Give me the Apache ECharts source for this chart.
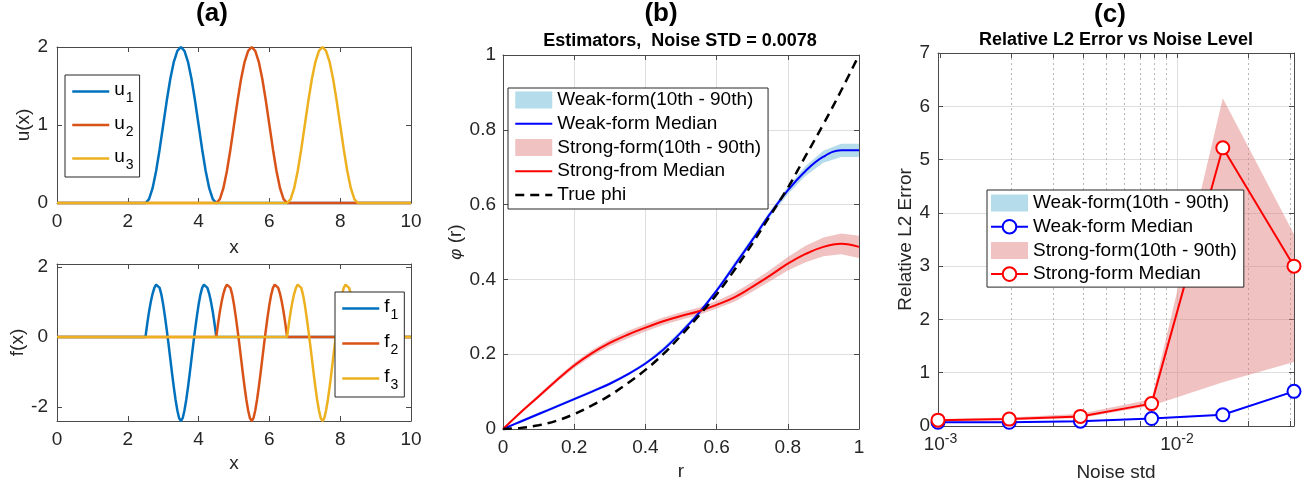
<!DOCTYPE html>
<html><head><meta charset="utf-8">
<script src="https://cdn.jsdelivr.net/npm/echarts@6/dist/echarts.min.js"></script>
<style>html,body{margin:0;padding:0;background:#fff}#c{width:1313px;height:488px}</style>
</head><body><div id="c"></div><script>
// ---------- Panel (a) data ----------
const bumpCenters = [3.5, 5.5, 7.5];
const xRangeA = [0, 10];
const uOffsets = [-1,-0.9,-0.8,-0.7,-0.6,-0.5,-0.4,-0.3,-0.2,-0.1,0,0.1,0.2,0.3,0.4,0.5,0.6,0.7,0.8,0.9,1];
const uProfile = [0,0.05,0.19,0.41,0.69,1.0,1.31,1.59,1.81,1.95,2.0,1.95,1.81,1.59,1.31,1.0,0.69,0.41,0.19,0.05,0];
const fOffsets = [-1,-0.95,-0.9,-0.85,-0.8,-0.75,-0.7,-0.65,-0.6,-0.55,-0.5,-0.45,-0.4,-0.35,-0.3,-0.25,-0.2,-0.15,-0.1,-0.05,0,
                  0.05,0.1,0.15,0.2,0.25,0.3,0.35,0.4,0.45,0.5,0.55,0.6,0.65,0.7,0.75,0.8,0.85,0.9,0.95,1];
const fProfile = [0,0.38,0.72,1.0,1.23,1.4,1.49,1.49,1.4,1.2,0.92,0.58,0.2,-0.2,-0.62,-1.04,-1.44,-1.8,-2.1,-2.32,-2.4,
                  -2.32,-2.1,-1.8,-1.44,-1.04,-0.62,-0.2,0.2,0.58,0.92,1.2,1.4,1.49,1.49,1.4,1.23,1.0,0.72,0.38,0];
const aTopYTicks = [0, 1, 2];
const aBotYTicks = [-2, 0, 2];

// ---------- Panel (b) data ----------
const rGrid     = [0,0.05,0.1,0.15,0.2,0.25,0.3,0.35,0.4,0.45,0.5,0.55,0.6,0.65,0.7,0.75,0.8,0.85,0.9,0.95,1.0];
const truePhi   = [0,0.003,0.01,0.022,0.04,0.063,0.09,0.122,0.158,0.2,0.25,0.303,0.36,0.425,0.495,0.57,0.645,0.73,0.815,0.905,1.0];
const weakMed   = [0,0.02,0.04,0.06,0.08,0.1,0.121,0.146,0.175,0.212,0.258,0.31,0.37,0.437,0.505,0.575,0.638,0.69,0.728,0.745,0.745];
const weakLo    = [0,0.016,0.036,0.056,0.076,0.096,0.117,0.142,0.171,0.206,0.252,0.304,0.364,0.429,0.497,0.567,0.628,0.677,0.712,0.727,0.727];
const weakHi    = [0,0.024,0.044,0.064,0.084,0.104,0.125,0.150,0.179,0.218,0.264,0.316,0.376,0.445,0.513,0.583,0.648,0.703,0.744,0.763,0.763];
const strongMed = [0,0.045,0.087,0.13,0.17,0.203,0.23,0.252,0.271,0.288,0.302,0.315,0.332,0.352,0.38,0.41,0.442,0.468,0.487,0.495,0.487];
const strongLo  = [0,0.041,0.082,0.124,0.163,0.195,0.221,0.242,0.261,0.278,0.292,0.305,0.322,0.34,0.367,0.395,0.424,0.446,0.462,0.467,0.457];
const strongHi  = [0,0.049,0.092,0.136,0.177,0.211,0.239,0.262,0.281,0.298,0.312,0.325,0.342,0.364,0.393,0.425,0.46,0.49,0.512,0.523,0.517];

// ---------- Panel (c) data ----------
const noiseStd   = [0.0009765625, 0.001953125, 0.00390625, 0.0078125, 0.015625, 0.03125];
const weakMedC   = [0.07, 0.07, 0.09, 0.14, 0.21, 0.65];
const weakLoC    = [0.06, 0.06, 0.08, 0.13, 0.2, 0.635];
const weakHiC    = [0.08, 0.08, 0.1, 0.15, 0.22, 0.665];
const strongMedC = [0.11, 0.13, 0.18, 0.42, 5.22, 3.0];
const strongLoC  = [0.095, 0.11, 0.15, 0.38, 0.82, 1.2];
const strongHiC  = [0.13, 0.16, 0.23, 0.5, 6.15, 3.6];
const cXMajor = [0.001, 0.01];
const cXMinor = [0.002,0.003,0.004,0.005,0.006,0.007,0.008,0.009,0.02,0.03];

// ---------- styling ----------
const FONT = '"Liberation Sans", Arial, Helvetica, sans-serif';
const TXT = '#262626';
const AXC = '#4a4a4a';
const GRIDC = '#dedede';
const C1 = '#0072BD', C2 = '#D95319', C3 = '#EDB120';
const BLUE = '#0000ff', RED = '#ff0000';
const WEAKBAND = 'rgba(150,205,225,0.7)';
const STRONGBAND = 'rgba(225,120,120,0.45)';
// axis indices per panel (bottom/left axis of each grid)
const AX_A1 = 0, AX_A2 = 2, AX_B = 4, AX_C = 6;

function merge(a, b) {
  const o = Object.assign({}, a);
  for (const k in b) {
    if (b[k] && typeof b[k] === 'object' && !Array.isArray(b[k]) && a[k] && typeof a[k] === 'object' && !Array.isArray(a[k])) o[k] = merge(a[k], b[k]);
    else o[k] = b[k];
  }
  return o;
}
function ax(extra) {
  return merge({
    nameLocation: 'middle',
    nameTextStyle: {color: TXT, fontSize: 19, fontFamily: FONT},
    axisLine: {show: true, onZero: false, lineStyle: {color: AXC, width: 1}},
    axisTick: {show: true, inside: true, length: 5, lineStyle: {color: AXC, width: 1}},
    axisLabel: {show: true, color: TXT, fontSize: 19, fontFamily: FONT, margin: 9},
    splitLine: {show: false},
    minorTick: {show: false}, minorSplitLine: {show: false}
  }, extra);
}
function boxAx(extra) { return ax(merge({axisLabel: {show: false}}, extra)); }
// hidden log axis used only to draw grid lines at given values
function gridOnlyLogAx(values, lineStyle) {
  return {type: 'log', logBase: 10, gridIndex: 3, min: noiseStd[0], max: noiseStd[noiseStd.length - 1],
    axisLine: {show: false}, axisLabel: {show: false},
    axisTick: {show: false, customValues: values},
    splitLine: {show: true, lineStyle: lineStyle}};
}

function bumpData(center, offs, prof) {
  return [[xRangeA[0], 0]].concat(offs.map((d, i) => [center + d, prof[i]])).concat([[xRangeA[1], 0]]);
}
function pairs(xs, ys) { return xs.map((x, i) => [x, ys[i]]); }

function band(name, xs, lo, hi, color, idx) {
  return {
    type: 'custom', name: name, xAxisIndex: idx, yAxisIndex: idx,
    data: xs.map((x, i) => [x, lo[i], hi[i]]),
    encode: {x: 0, y: [1, 2]},
    itemStyle: {color: color},
    silent: true,
    renderItem: function (params, api) {
      if (params.dataIndex !== 0) return null;
      const pts = [];
      for (let i = 0; i < xs.length; i++) pts.push(api.coord([xs[i], hi[i]]));
      for (let i = xs.length - 1; i >= 0; i--) pts.push(api.coord([xs[i], lo[i]]));
      return {type: 'polygon', shape: {points: pts}, style: {fill: color, stroke: null}};
    }
  };
}
function line(name, idx, data, color, width, extra) {
  return merge({
    type: 'line', name: name, xAxisIndex: idx, yAxisIndex: idx, data: data,
    symbol: 'none', showSymbol: false, clip: false,
    lineStyle: {color: color, width: width}, itemStyle: {color: color},
    emphasis: {disabled: true}
  }, extra || {});
}
const noSym = n => ({name: n, itemStyle: {opacity: 0}});

const subFmt = n => '{a|' + n.charAt(0) + '}{s|' + n.slice(1) + '}';
const richSub = {
  a: {fontSize: 19, lineHeight: 22, verticalAlign: 'top', fontFamily: FONT, color: '#000'},
  s: {fontSize: 14, lineHeight: 14, padding: [11, 0, 0, 1], verticalAlign: 'top', fontFamily: FONT, color: '#000'}
};
const legendBase = {
  orient: 'vertical', selectedMode: false, borderColor: '#262626', borderWidth: 1, borderRadius: 0,
  backgroundColor: '#fff', itemWidth: 37, lineStyle: {width: 'inherit'},
  textStyle: {color: '#000', fontSize: 19, fontFamily: FONT, lineHeight: 20}
};

const option = {
  animation: false,
  backgroundColor: '#fff',
  grid: [
    {left: 57, top: 47, width: 354, height: 156, containLabel: false, outerBoundsMode: 'none'},
    {left: 57, top: 264, width: 354, height: 157, containLabel: false, outerBoundsMode: 'none'},
    {left: 503, top: 55, width: 356, height: 374, containLabel: false, outerBoundsMode: 'none'},
    {left: 938, top: 53, width: 356, height: 373, containLabel: false, outerBoundsMode: 'none'}
  ],
  xAxis: [
    ax({type: 'value', gridIndex: 0, min: xRangeA[0], max: xRangeA[1], interval: 2, name: 'x', nameGap: 35}),
    boxAx({type: 'value', gridIndex: 0, min: xRangeA[0], max: xRangeA[1], interval: 2, position: 'top'}),
    ax({type: 'value', gridIndex: 1, min: xRangeA[0], max: xRangeA[1], interval: 2, name: 'x', nameGap: 33}),
    boxAx({type: 'value', gridIndex: 1, min: xRangeA[0], max: xRangeA[1], interval: 2, position: 'top'}),
    ax({type: 'value', gridIndex: 2, min: 0, max: 1, interval: 0.2, name: 'r', nameGap: 33,
        splitLine: {show: true, lineStyle: {color: GRIDC, width: 1}}}),
    boxAx({type: 'value', gridIndex: 2, min: 0, max: 1, interval: 0.2, position: 'top'}),
    ax({type: 'log', logBase: 10, gridIndex: 3, min: noiseStd[0], max: noiseStd[noiseStd.length - 1],
        name: 'Noise std', nameGap: 37,
        axisLabel: {customValues: cXMajor, margin: 6,
          formatter: v => '{b|10}{s|' + Math.round(Math.log10(v)) + '}',
          rich: {b: {fontSize: 19, fontFamily: FONT, color: TXT},
                 s: {fontSize: 14, fontFamily: FONT, color: TXT, padding: [0, 0, 12, 0], verticalAlign: 'top'}}},
        axisTick: {customValues: cXMajor.concat(cXMinor)}}),
    boxAx({type: 'log', logBase: 10, gridIndex: 3, min: noiseStd[0], max: noiseStd[noiseStd.length - 1], position: 'top',
        axisTick: {customValues: cXMajor.concat(cXMinor)}}),
    gridOnlyLogAx(cXMinor, {type: [2, 3], color: '#b8b8b8', width: 1}),
    gridOnlyLogAx([cXMajor[1]], {type: 'solid', color: GRIDC, width: 1})
  ],
  yAxis: [
    ax({type: 'value', gridIndex: 0, min: 0, max: 2, interval: 1, name: 'u(x)', nameGap: 20}),
    boxAx({type: 'value', gridIndex: 0, min: 0, max: 2, interval: 1, position: 'right'}),
    ax({type: 'value', gridIndex: 1, min: -2.4, max: 2.08, name: 'f(x)', nameGap: 30,
        axisLabel: {customValues: aBotYTicks}, axisTick: {customValues: aBotYTicks}}),
    boxAx({type: 'value', gridIndex: 1, min: -2.4, max: 2.08, position: 'right', axisTick: {customValues: aBotYTicks}}),
    ax({type: 'value', gridIndex: 2, min: 0, max: 1, interval: 0.2, name: '{p|φ} (r)', nameGap: 36,
        axisLabel: {margin: 7},
        nameTextStyle: {rich: {p: {fontStyle: 'italic', fontSize: 17, fontFamily: FONT, color: TXT}}},
        splitLine: {show: true, lineStyle: {color: GRIDC, width: 1}}}),
    boxAx({type: 'value', gridIndex: 2, min: 0, max: 1, interval: 0.2, position: 'right'}),
    ax({type: 'value', gridIndex: 3, min: 0, max: 7, interval: 1, name: 'Relative L2 Error', nameGap: 23,
        axisLabel: {margin: 8},
        splitLine: {show: true, lineStyle: {color: GRIDC, width: 1}}}),
    boxAx({type: 'value', gridIndex: 3, min: 0, max: 7, interval: 1, position: 'right'})
  ],
  legend: [
    merge(legendBase, {left: 65, top: 75, padding: [5.5, 6, 4.5, 6], itemGap: 8.5, itemHeight: 14,
      data: ['u1', 'u2', 'u3'].map(noSym), formatter: subFmt, textStyle: {rich: richSub, lineHeight: 22}}),
    merge(legendBase, {left: 335, top: 292, padding: [5.5, 6, 4.5, 6], itemGap: 10, itemHeight: 14,
      data: ['f1', 'f2', 'f3'].map(noSym), formatter: subFmt, textStyle: {rich: richSub, lineHeight: 22}}),
    merge(legendBase, {left: 508, top: 88, padding: [2, 7, 4, 6], itemGap: 3.75, itemHeight: 17,
      data: [{name: 'Weak-form(10th - 90th)', icon: 'rect'}, noSym('Weak-form Median'),
             {name: 'Strong-form(10th - 90th)', icon: 'rect'}, noSym('Strong-from Median'), noSym('True phi')]}),
    merge(legendBase, {left: 987, top: 190, padding: [3, 7, 3, 3], itemGap: 3.7, itemHeight: 17,
      data: [{name: 'c:Weak-form(10th - 90th)', icon: 'rect'}, 'c:Weak-form Median',
             {name: 'c:Strong-form(10th - 90th)', icon: 'rect'}, 'c:Strong-form Median'],
      formatter: n => n.replace('c:', '')})
  ],
  graphic: [
    {type: 'text', x: 212, y: 14, style: {text: '(a)', font: 'bold 26px ' + FONT, fill: '#000', align: 'center', verticalAlign: 'middle'}},
    {type: 'text', x: 661, y: 14, style: {text: '(b)', font: 'bold 26px ' + FONT, fill: '#000', align: 'center', verticalAlign: 'middle'}},
    {type: 'text', x: 1110, y: 15, style: {text: '(c)', font: 'bold 26px ' + FONT, fill: '#000', align: 'center', verticalAlign: 'middle'}},
    {type: 'text', x: 680, y: 41, style: {text: 'Estimators,  Noise STD = 0.0078', font: 'bold 18px ' + FONT, fill: '#000', align: 'center', verticalAlign: 'middle'}},
    {type: 'text', x: 1116, y: 40, style: {text: 'Relative L2 Error vs Noise Level', font: 'bold 18px ' + FONT, fill: '#000', align: 'center', verticalAlign: 'middle'}}
  ],
  series: [
    // panel (a) top
    line('u1', AX_A1, bumpData(bumpCenters[0], uOffsets, uProfile), C1, 2.5),
    line('u2', AX_A1, bumpData(bumpCenters[1], uOffsets, uProfile), C2, 2.5),
    line('u3', AX_A1, bumpData(bumpCenters[2], uOffsets, uProfile), C3, 2.5),
    // panel (a) bottom
    line('f1', AX_A2, bumpData(bumpCenters[0], fOffsets, fProfile), C1, 2.5),
    line('f2', AX_A2, bumpData(bumpCenters[1], fOffsets, fProfile), C2, 2.5),
    line('f3', AX_A2, bumpData(bumpCenters[2], fOffsets, fProfile), C3, 2.5),
    // panel (b)
    band('Weak-form(10th - 90th)', rGrid, weakLo, weakHi, WEAKBAND, AX_B),
    line('Weak-form Median', AX_B, pairs(rGrid, weakMed), BLUE, 2, {smooth: 0.4}),
    band('Strong-form(10th - 90th)', rGrid, strongLo, strongHi, STRONGBAND, AX_B),
    line('Strong-from Median', AX_B, pairs(rGrid, strongMed), RED, 2, {smooth: 0.4}),
    line('True phi', AX_B, pairs(rGrid, truePhi), '#000', 2.5, {smooth: 0.4, lineStyle: {type: [9, 6]}}),
    // panel (c)
    band('c:Weak-form(10th - 90th)', noiseStd, weakLoC, weakHiC, WEAKBAND, AX_C),
    line('c:Weak-form Median', AX_C, pairs(noiseStd, weakMedC), BLUE, 2,
      {symbol: 'emptyCircle', showSymbol: true, symbolSize: 13, itemStyle: {borderWidth: 2, borderColor: BLUE}}),
    band('c:Strong-form(10th - 90th)', noiseStd, strongLoC, strongHiC, STRONGBAND, AX_C),
    line('c:Strong-form Median', AX_C, pairs(noiseStd, strongMedC), RED, 2,
      {symbol: 'emptyCircle', showSymbol: true, symbolSize: 13, itemStyle: {borderWidth: 2, borderColor: RED}})
  ]
};
const chart = echarts.init(document.getElementById('c'), null, {renderer: 'canvas'});
chart.setOption(option);
</script></body></html>
